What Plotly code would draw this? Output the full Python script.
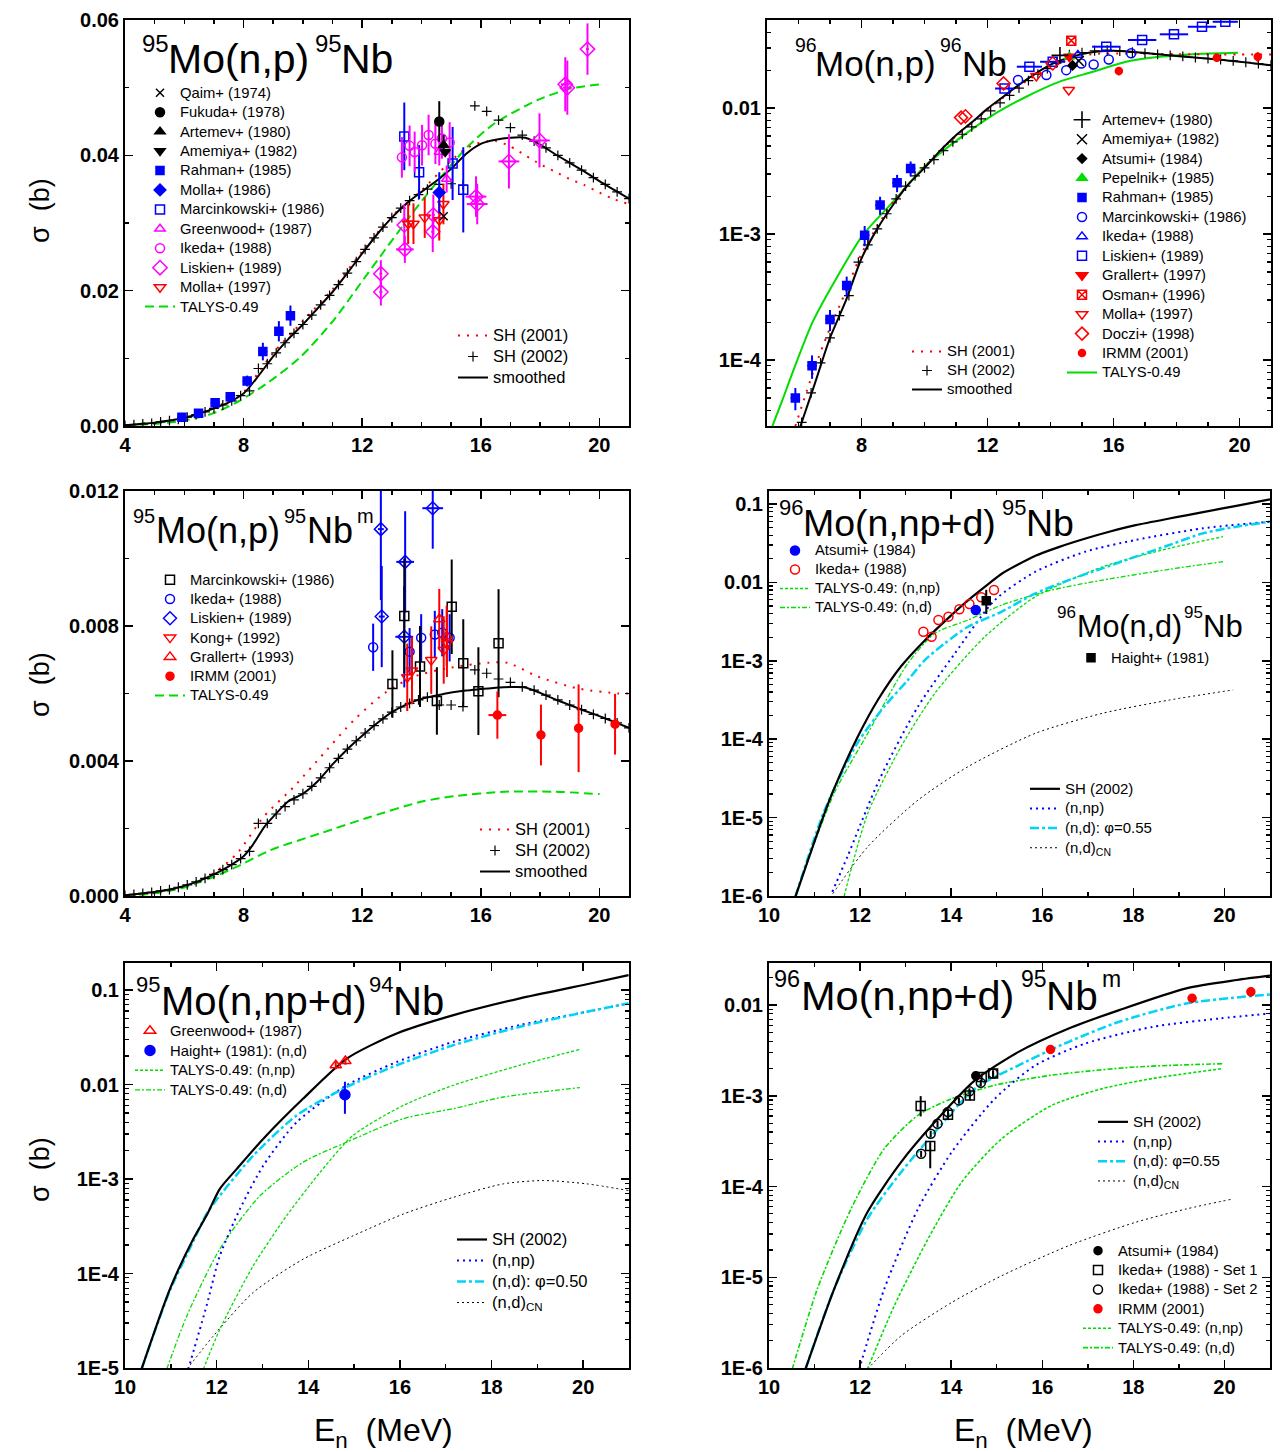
import plotly.graph_objects as go

W, H = 1280, 1452
FONT = "Liberation Sans"
BLK = "#000000"; BLUE = "#0000ff"; RED = "#ff0000"; MAG = "#ff00ff"
GRN = "#00dd00"; CYAN = "#00d4f4"

# ================= Panel 1: 95Mo(n,p)95Nb =================
p1_smooth_E = [4.0, 4.5, 5.0, 5.5, 6.0, 6.5, 7.0, 7.5, 8.0, 8.5, 9.0, 9.5, 10.0, 10.5, 11.0, 11.5, 12.0, 12.5,
               13.0, 13.5, 14.0, 14.5, 15.0, 15.5, 16.0, 16.5, 17.0, 17.5, 18.0, 18.5, 19.0, 19.5, 20.0, 20.5, 21.0]
p1_smooth = [0.0001, 0.0003, 0.0005, 0.0008, 0.0012, 0.0018, 0.0026, 0.0035, 0.0048, 0.0074, 0.0103, 0.0128,
             0.0150, 0.0174, 0.0198, 0.0226, 0.0255, 0.0283, 0.0308, 0.0329, 0.0346, 0.0362, 0.0380, 0.0402,
             0.0417, 0.0423, 0.0426, 0.0426, 0.0416, 0.0402, 0.0389, 0.0376, 0.0362, 0.0349, 0.0336]
p1_sh01_E = [4.0, 5.0, 6.0, 7.0, 8.0, 8.5, 9.0, 10.0, 11.0, 12.0, 13.0, 14.0, 15.0, 15.5, 16.0, 16.5, 17.0,
             17.5, 18.0, 18.5, 19.0, 19.5, 20.0, 20.5, 21.0]
p1_sh01 = [0.0001, 0.0005, 0.0012, 0.0027, 0.0050, 0.0079, 0.0108, 0.0155, 0.0202, 0.0258, 0.0310, 0.0348,
           0.0392, 0.0410, 0.0419, 0.0421, 0.0413, 0.0400, 0.0387, 0.0376, 0.0365, 0.0356, 0.0345, 0.0335, 0.0328]
sh02_E = [4.0, 4.3, 4.6, 4.9, 5.2, 5.5, 5.8, 6.1, 6.4, 6.7, 7.0, 7.3, 7.6, 7.9, 8.2, 8.5, 8.8, 9.1, 9.4, 9.7,
          10.0, 10.3, 10.6, 10.9, 11.2, 11.5, 11.8, 12.1, 12.4, 12.7, 13.0, 13.3, 13.6, 13.9, 14.2, 14.6, 15.0,
          15.4, 15.8, 16.2, 16.6, 17.0, 17.4, 17.8, 18.2, 18.6, 19.0, 19.4, 19.8, 20.2, 20.6, 21.0]
p1_sh02 = [0.0001, 0.0002, 0.0003, 0.0004, 0.0006, 0.0008, 0.0010, 0.0013, 0.0017, 0.0021, 0.0026, 0.0031,
           0.0037, 0.0045, 0.0052, 0.0085, 0.0092, 0.0108, 0.0123, 0.0137, 0.0150, 0.0164, 0.0179, 0.0193,
           0.0209, 0.0226, 0.0243, 0.0261, 0.0278, 0.0294, 0.0308, 0.0322, 0.0333, 0.0342, 0.0350, 0.0357,
           0.0358, 0.0356, 0.0473, 0.0465, 0.0452, 0.0441, 0.0430, 0.0421, 0.0411, 0.0400, 0.0389, 0.0378,
           0.0367, 0.0357, 0.0346, 0.0336]
p1_talys_E = [4.0, 5.0, 6.0, 7.0, 7.89, 8.79, 9.92, 11.05, 11.95, 12.85, 13.77, 14.66, 15.56, 16.46, 17.93, 19.06, 20.07]
p1_talys = [0.0001, 0.0003, 0.0008, 0.0019, 0.0038, 0.0063, 0.0102, 0.0157, 0.0211, 0.0265, 0.0319, 0.0368,
            0.0413, 0.0447, 0.0482, 0.0499, 0.0505]
p1_qaim_E = [14.75]; p1_qaim = [0.031]
p1_fukuda_E = [14.6]; p1_fukuda = [0.045]; p1_fukuda_err = [0.003]
p1_artemev_E = [14.75]; p1_artemev = [0.0415]; p1_artemev_err = [0.0015]
p1_amemiya_E = [14.8]; p1_amemiya = [0.0405]
p1_rahman_E = [5.92, 6.48, 7.04, 7.55, 8.12, 8.65, 9.19, 9.58]
p1_rahman = [0.00128, 0.00187, 0.00345, 0.00433, 0.00665, 0.0110, 0.0140, 0.0163]
p1_rahman_err = [0.0003, 0.0003, 0.0005, 0.0006, 0.0008, 0.0013, 0.0015, 0.0015]
p1_rahman_xerr = [0.15, 0.15, 0.15, 0.15, 0.15, 0.15, 0.15, 0.15]
p1_molla86_E = [14.6]; p1_molla86 = [0.0345]; p1_molla86_err = [0.003]
p1_marc_E = [13.42, 13.92, 15.05, 15.41]
p1_marc = [0.0428, 0.0375, 0.0388, 0.0349]
p1_marc_err = [0.005, 0.004, 0.0054, 0.0063]
p1_green_E = [14.6, 14.85]; p1_green = [0.0405, 0.0365]; p1_green_err = [0.002, 0.002]
p1_ikeda_E = [13.34, 13.6, 13.77, 14.02, 14.24, 14.47, 14.69, 14.95]
p1_ikeda = [0.0397, 0.0414, 0.0405, 0.0415, 0.0430, 0.0417, 0.0425, 0.0419]
p1_ikeda_err = [0.003, 0.003, 0.003, 0.003, 0.003, 0.003, 0.003, 0.003]
p1_lisk_E = [12.63, 12.63, 13.44, 13.42, 14.38, 14.4, 15.84, 15.88, 16.95, 17.98, 18.85, 18.92, 19.6]
p1_lisk = [0.0225, 0.0198, 0.0261, 0.0297, 0.0287, 0.0312, 0.0339, 0.0328, 0.0391, 0.0422, 0.0505, 0.0500, 0.0557]
p1_lisk_err = [0.002, 0.002, 0.002, 0.003, 0.003, 0.003, 0.003, 0.003, 0.004, 0.004, 0.004, 0.004, 0.0038]
p1_lisk_xerr = [0.05, 0.05, 0.3, 0.05, 0.05, 0.05, 0.35, 0.35, 0.35, 0.35, 0.15, 0.15, 0.05]
p1_molla97_E = [13.55, 13.73, 14.11, 14.6, 14.74]
p1_molla97 = [0.0299, 0.0299, 0.0308, 0.0304, 0.0328]
p1_molla97_err = [0.003, 0.003, 0.003, 0.003, 0.003]

# ================= Panel 2: 96Mo(n,p)96Nb =================
p2_smooth_E = [6.0, 6.5, 7.0, 7.5, 8.0, 8.5, 9.0, 9.5, 10.0, 10.5, 11.0, 11.5, 12.0, 12.5, 13.0, 13.5, 14.0, 14.5,
               15.0, 15.5, 16.0, 16.5, 17.0, 17.5, 18.0, 18.5, 19.0, 19.5, 20.0, 20.5, 21.0]
p2_smooth = [2.7e-5, 6.3e-5, 1.5e-4, 2.95e-4, 6.4e-4, 1.1e-3, 1.7e-3, 2.5e-3, 3.35e-3, 4.6e-3, 6.1e-3, 7.7e-3,
             9.9e-3, 0.0123, 0.0153, 0.0186, 0.0221, 0.0248, 0.0268, 0.0281, 0.0285, 0.0281, 0.0273, 0.0266,
             0.0259, 0.0253, 0.0247, 0.0241, 0.0233, 0.0226, 0.0219]
p2_sh02_E = [6.1, 6.4, 6.7, 7.0, 7.3, 7.6, 7.9, 8.2, 8.5, 8.8, 9.1, 9.4, 9.7, 10.0, 10.3, 10.6, 10.9, 11.2, 11.5,
             11.8, 12.1, 12.4, 12.7, 13.0, 13.3, 13.6, 13.9, 14.2, 14.6, 15.0, 15.4, 15.8, 16.2, 16.6, 17.0, 17.4,
             17.8, 18.2, 18.6, 19.0, 19.4, 19.8, 20.2, 20.6, 21.0]
p2_sh02 = [3.2e-5, 5.5e-5, 9.5e-5, 1.5e-4, 2.25e-4, 3.25e-4, 6.0e-4, 8.2e-4, 1.1e-3, 1.45e-3, 1.9e-3, 2.4e-3,
           2.9e-3, 3.35e-3, 3.9e-3, 4.6e-3, 5.4e-3, 6.2e-3, 7.1e-3, 8.2e-3, 9.5e-3, 0.0110, 0.0126, 0.0144,
           0.0165, 0.0186, 0.0206, 0.0228, 0.0265, 0.0275, 0.0285, 0.0288, 0.0283, 0.0278, 0.0273, 0.0267,
           0.0262, 0.0257, 0.0252, 0.0247, 0.0243, 0.0237, 0.0231, 0.0225, 0.0219]
p2_sh01_E = [5.9, 6.5, 7.0, 7.5, 8.0, 8.5, 9.0, 10.0, 11.0, 12.0, 13.0, 14.0, 14.5, 15.0, 15.5, 16.0, 17.0, 18.0,
             19.0, 20.0, 21.0]
p2_sh01 = [3.0e-5, 8.5e-5, 1.8e-4, 3.5e-4, 7.0e-4, 1.15e-3, 1.8e-3, 3.4e-3, 6.0e-3, 9.7e-3, 0.0150, 0.0212,
           0.0245, 0.0262, 0.0270, 0.0271, 0.0270, 0.0268, 0.0267, 0.0266, 0.0266]
p2_talys_E = [5.15, 5.5, 5.82, 6.45, 7.2, 8.04, 9.0, 10.05, 11.11, 12.17, 13.23, 14.29, 15.34, 16.4, 17.46, 18.52, 19.95]
p2_talys = [2.9e-5, 4.9e-5, 8.07e-5, 2.01e-4, 4.45e-4, 9.8e-4, 1.8e-3, 3.53e-3, 5.75e-3, 8.8e-3, 0.0123,
            0.0162, 0.0194, 0.0233, 0.0255, 0.0268, 0.0275]
p2_artemev_E = [14.3]; p2_artemev = [0.0262]
p2_amemiya_E = [14.9]; p2_amemiya = [0.0236]
p2_atsumi_E = [14.7]; p2_atsumi = [0.0218]
p2_pepelnik_E = [14.6]; p2_pepelnik = [0.0255]
p2_rahman_E = [5.9, 6.43, 7.0, 7.53, 8.1, 8.59, 9.13, 9.56]
p2_rahman = [5.0e-5, 9.0e-5, 2.1e-4, 3.9e-4, 9.8e-4, 1.7e-3, 2.55e-3, 3.32e-3]
p2_rahman_err = [1.0e-5, 1.9e-5, 4e-5, 7e-5, 1.8e-4, 2.8e-4, 4e-4, 4.5e-4]
p2_rahman_xerr = [0.15, 0.15, 0.15, 0.15, 0.15, 0.15, 0.15, 0.15]
p2_marc_E = [12.97, 13.87, 14.5, 14.98, 15.37, 15.85, 16.56]
p2_marc = [0.0167, 0.0183, 0.0200, 0.0226, 0.0222, 0.0243, 0.0272]
p2_ikeda_E = [14.87]; p2_ikeda = [0.0264]
p2_lisk_E = [12.54, 13.33, 14.07, 15.77, 16.91, 17.92, 18.81, 19.55]
p2_lisk = [0.0143, 0.0213, 0.0233, 0.0307, 0.0347, 0.0385, 0.0442, 0.0484]
p2_lisk_xerr = [0.3, 0.4, 0.4, 0.45, 0.45, 0.45, 0.45, 0.4]
p2_grallert_E = [14.6]; p2_grallert = [0.0255]
p2_osman_E = [14.66]; p2_osman = [0.0343]
p2_molla_E = [13.55, 14.58]; p2_molla = [0.018, 0.0139]
p2_doczi_E = [11.16, 11.3, 12.51, 14.07]; p2_doczi = [0.0084, 0.0086, 0.0157, 0.0226]
p2_irmm_E = [16.17, 19.28, 20.58]; p2_irmm = [0.0197, 0.0251, 0.0255]; p2_irmm_err = [0.0015, 0.0018, 0.0022]

# ================= Panel 3: 95Mo(n,p)95Nb^m =================
p3_smooth_E = [4.0, 4.5, 5.0, 5.5, 6.0, 6.5, 7.0, 7.5, 8.0, 8.3, 8.7, 9.0, 9.5, 10.0, 10.5, 11.0, 11.5, 12.0, 12.5,
               13.0, 13.5, 14.0, 14.5, 15.0, 15.5, 16.0, 16.5, 17.0, 17.5, 18.0, 18.5, 19.0, 19.5, 20.0, 20.5, 21.0]
p3_smooth = [0.00002, 0.00007, 0.00012, 0.00019, 0.0003, 0.00045, 0.00064, 0.00088, 0.00118, 0.0015, 0.00205,
             0.00235, 0.0028, 0.00303, 0.0034, 0.0039, 0.00435, 0.00475, 0.00512, 0.00545, 0.00568, 0.00584,
             0.00594, 0.00603, 0.00609, 0.00613, 0.00617, 0.00619, 0.00618, 0.00602, 0.00583, 0.00566, 0.00549,
             0.00533, 0.00516, 0.00498]
p3_sh02 = [0.00002, 0.00005, 0.00008, 0.00011, 0.00015, 0.00019, 0.00026, 0.00033, 0.00042, 0.00052, 0.00064,
           0.00078, 0.00093, 0.00111, 0.00132, 0.00215, 0.00215, 0.00243, 0.00265, 0.00285, 0.00303, 0.00325,
           0.0035, 0.0038, 0.00408, 0.00435, 0.0046, 0.00483, 0.00505, 0.00525, 0.00545, 0.0056, 0.00571,
           0.00581, 0.00589, 0.00566, 0.00566, 0.00561, 0.0067, 0.0066, 0.00643, 0.00633, 0.0062, 0.0061,
           0.00595, 0.00581, 0.00566, 0.00552, 0.00538, 0.00526, 0.00513, 0.00498]
p3_sh01_E = [4.0, 5.0, 6.0, 7.0, 7.78, 8.68, 9.7, 10.71, 11.72, 12.74, 13.75, 14.88, 16.24, 16.91, 17.93, 19.28, 20.63, 21.0]
p3_sh01 = [0.00002, 0.0001, 0.0003, 0.00068, 0.00126, 0.00235, 0.00324, 0.00423, 0.00521, 0.006, 0.0065,
           0.00675, 0.00691, 0.00691, 0.0065, 0.00615, 0.006, 0.006]
p3_talys_E = [4.0, 5.0, 6.0, 6.54, 7.0, 7.78, 8.91, 10.6, 12.29, 13.98, 15.11, 16.8, 18.49, 20.01]
p3_talys = [0.0, 0.00008, 0.00025, 0.00042, 0.00057, 0.00087, 0.00136, 0.00186, 0.00235, 0.00279, 0.00296,
            0.00309, 0.00309, 0.00302]
p3_marc_E = [13.02, 13.42, 13.95, 14.52, 15.02, 15.41, 15.92, 16.6]
p3_marc = [0.00628, 0.0083, 0.0068, 0.00578, 0.00857, 0.0069, 0.00607, 0.00749]
p3_marc_err = [0.001, 0.0017, 0.0012, 0.001, 0.0014, 0.0013, 0.0013, 0.0016]
p3_ikeda_E = [12.37, 13.6, 13.99, 14.45, 14.7, 14.95]
p3_ikeda = [0.00737, 0.00724, 0.00765, 0.00775, 0.0078, 0.00765]
p3_ikeda_err = [0.0007, 0.0007, 0.0007, 0.0007, 0.0007, 0.0007]
p3_lisk_E = [12.63, 12.66, 13.45, 13.42, 14.38]
p3_lisk = [0.01087, 0.00828, 0.0099, 0.00768, 0.01149]
p3_lisk_err = [0.0021, 0.0015, 0.0015, 0.0015, 0.0012]
p3_lisk_xerr = [0.1, 0.1, 0.3, 0.3, 0.35]
p3_kong_E = [13.52, 13.68, 14.33, 14.75, 14.86]
p3_kong = [0.00648, 0.00668, 0.00699, 0.00729, 0.00749]
p3_kong_err = [0.001, 0.001, 0.001, 0.001, 0.001]
p3_grallert_E = [14.6, 14.85]; p3_grallert = [0.0082, 0.0077]; p3_grallert_err = [0.0009, 0.0009]
p3_irmm_E = [16.56, 18.03, 19.3, 20.53]
p3_irmm = [0.00536, 0.00477, 0.00497, 0.00509]
p3_irmm_err = [0.0007, 0.0009, 0.0013, 0.0009]
p3_irmm_xerr = [0.3, 0.1, 0.1, 0.1]

# ================= Panel 4: 96Mo(n,np+d)95Nb =================
p4_sh_E = [10.58, 10.84, 11.21, 11.43, 11.94, 12.39, 12.9, 13.42, 14.0, 14.37, 14.82, 15.11, 15.85, 16.36, 16.95,
           17.47, 18.05, 18.79, 19.16, 19.9, 20.26, 21.0]
p4_sh = [9.8e-7, 2.69e-6, 1.1e-5, 2.34e-5, 1.05e-4, 3.16e-4, 8.51e-4, 1.82e-3, 3.8e-3, 5.89e-3, 9.55e-3, 0.0129,
         0.0219, 0.0282, 0.0363, 0.0442, 0.0537, 0.0653, 0.0716, 0.0865, 0.0948, 0.115]
p4_np_E = [11.39, 11.72, 12.42, 13.27, 14.08, 14.96, 15.85, 16.95, 18.05, 19.53, 21.0]
p4_np = [1.13e-6, 3.16e-6, 3.02e-5, 2.6e-4, 1.24e-3, 5.97e-3, 0.0137, 0.0247, 0.0348, 0.049, 0.0594]
p4_nd_E = [10.58, 11.21, 11.94, 12.53, 13.05, 13.42, 13.86, 14.37, 15.11, 15.85, 16.58, 17.32, 18.05, 18.79,
           19.53, 20.26, 21.0]
p4_nd = [9.8e-7, 1.2e-5, 8.9e-5, 2.6e-4, 5.69e-4, 1.02e-3, 1.67e-3, 2.72e-3, 4.24e-3, 7.26e-3, 0.0107, 0.0151,
         0.0213, 0.030, 0.0423, 0.0514, 0.0594]
p4_cn_E = [11.4, 12.17, 13.27, 14.37, 15.85, 17.32, 18.79, 20.19]
p4_cn = [1.07e-6, 4.26e-6, 1.67e-5, 4.47e-5, 1.19e-4, 2.14e-4, 3.16e-4, 4.25e-4]
p4_tnp_E = [11.65, 12.17, 12.9, 13.64, 14.74, 15.85, 17.32, 18.79, 19.97]
p4_tnp = [1e-6, 1.14e-5, 8.04e-5, 3.85e-4, 2.03e-3, 6.58e-3, 0.0158, 0.0272, 0.0383]
p4_tnd_E = [10.58, 11.43, 12.17, 13.05, 13.64, 14.37, 15.11, 16.21, 17.32, 18.79, 19.97]
p4_tnd = [1e-6, 2.04e-5, 1.19e-4, 9.29e-4, 2.24e-3, 3.31e-3, 5.15e-3, 8.0e-3, 0.0107, 0.0147, 0.0184]
p4_atsumi_E = [14.54]; p4_atsumi = [4.45e-3]
p4_ikeda_E = [13.39, 13.57, 13.72, 13.94, 14.18, 14.4, 14.66, 14.94]
p4_ikeda = [2.35e-3, 2.03e-3, 3.31e-3, 3.66e-3, 4.54e-3, 5.31e-3, 6.46e-3, 8.0e-3]
p4_haight_E = [14.77]; p4_haight = [5.85e-3]; p4_haight_up = [2.2e-3]; p4_haight_dn = [1.9e-3]

# ================= Panel 5: 95Mo(n,np+d)94Nb =================
p5_sh_E = [10.36, 10.98, 11.49, 11.78, 12.07, 12.44, 13.02, 13.89, 14.84, 15.93, 17.17, 18.62, 20.08, 20.99]
p5_sh = [9.7e-6, 6.84e-5, 2.32e-4, 4.1e-4, 7.87e-4, 1.28e-3, 2.67e-3, 7.1e-3, 0.0188, 0.0347, 0.0543, 0.0817,
         0.115, 0.144]
p5_np_E = [11.38, 11.78, 12.07, 12.51, 13.02, 13.75, 14.84, 15.93, 17.17, 18.62, 20.08, 20.99]
p5_np = [9.7e-6, 4.55e-5, 1.54e-4, 4.83e-4, 1.39e-3, 4.01e-3, 9.82e-3, 0.0173, 0.0283, 0.0426, 0.0589, 0.0723]
p5_nd_E = [10.36, 10.98, 11.49, 11.78, 12.07, 12.8, 13.75, 14.84, 15.93, 17.17, 18.62, 20.08, 20.99]
p5_nd = [9.7e-6, 6.6e-5, 2.19e-4, 4.27e-4, 6.68e-4, 1.77e-3, 4.72e-3, 9.42e-3, 0.016, 0.0261, 0.0408, 0.0589, 0.0723]
p5_tnp_E = [11.71, 12.07, 12.8, 13.53, 14.26, 14.98, 16.08, 17.17, 18.62, 19.93]
p5_tnp = [9.7e-6, 2.57e-5, 1.21e-4, 4.1e-4, 1.18e-3, 2.9e-3, 6.03e-3, 9.82e-3, 0.016, 0.0235]
p5_tnd_E = [10.91, 11.35, 12.07, 12.95, 13.89, 14.84, 16.08, 17.17, 18.26, 19.93]
p5_tnd = [9.7e-6, 3.56e-5, 1.82e-4, 6.68e-4, 1.51e-3, 2.46e-3, 4.36e-3, 5.56e-3, 7.38e-3, 9.27e-3]
p5_cn_E = [11.35, 11.93, 12.8, 13.89, 14.98, 16.08, 17.17, 18.26, 19.13, 20.08, 20.99]
p5_cn = [9.7e-6, 2.19e-5, 6.31e-5, 1.42e-4, 2.51e-4, 4.27e-4, 6.41e-4, 8.89e-4, 9.64e-4, 8.89e-4, 7.55e-4]
p5_green_E = [14.6, 14.81]; p5_green = [0.016, 0.0177]; p5_green_err = [0.0015, 0.0015]
p5_haight_E = [14.8]; p5_haight = [7.8e-3]; p5_haight_err = [2.9e-3]

# ================= Panel 6: 96Mo(n,np+d)95Nb^m =================
p6_sh_E = [10.8, 11.43, 12.16, 12.9, 13.64, 14.52, 15.48, 16.58, 17.69, 19.16, 20.27, 21.0]
p6_sh = [9.7e-7, 7.41e-6, 5.2e-5, 1.86e-4, 5.14e-4, 1.48e-3, 3.05e-3, 5.52e-3, 8.81e-3, 0.0153, 0.0189, 0.0211]
p6_np_E = [11.98, 12.53, 13.27, 14.01, 14.96, 15.85, 16.95, 18.42, 19.9, 21.0]
p6_np = [9.7e-7, 7.41e-6, 5.66e-5, 2.39e-4, 9.31e-4, 2.17e-3, 3.78e-3, 5.75e-3, 7.13e-3, 8.09e-3]
p6_nd_E = [10.8, 11.43, 12.16, 12.9, 13.64, 14.52, 15.48, 16.58, 17.69, 19.16, 21.0]
p6_nd = [9.7e-7, 7.41e-6, 4.4e-5, 1.44e-4, 3.98e-4, 1.2e-3, 2.17e-3, 3.94e-3, 6.55e-3, 0.0104, 0.0131]
p6_tnp_E = [12.16, 12.75, 13.49, 14.23, 15.11, 16.21, 17.32, 18.42, 19.97]
p6_tnp = [9.7e-7, 4.84e-6, 2.64e-5, 1.12e-4, 3.37e-4, 7.85e-4, 1.2e-3, 1.55e-3, 2.0e-3]
p6_tnd_E = [10.51, 11.06, 11.8, 12.53, 13.27, 14.01, 14.96, 16.21, 18.05, 19.97]
p6_tnd = [9.7e-7, 7.41e-6, 5.66e-5, 2.61e-4, 6.1e-4, 9.31e-4, 1.31e-3, 1.69e-3, 2.08e-3, 2.26e-3]
p6_cn_E = [12.16, 12.9, 14.01, 15.11, 16.58, 18.05, 19.16, 20.19]
p6_cn = [9.7e-7, 2.26e-6, 5.27e-6, 1.04e-5, 2.23e-5, 4.04e-5, 5.66e-5, 7.31e-5]
p6_atsumi_E = [14.54]; p6_atsumi = [1.66e-3]
p6_ik1_E = [13.33, 13.54, 13.93, 14.41, 14.67, 14.92]
p6_ik1 = [7.73e-4, 2.79e-4, 6.2e-4, 1.01e-3, 1.61e-3, 1.76e-3]
p6_ik1_up = [2.2e-4, 3e-5, 8e-5, 1.2e-4, 1.5e-4, 1.5e-4]
p6_ik1_dn = [1.8e-4, 1.2e-4, 8e-5, 1.2e-4, 1.5e-4, 1.5e-4]
p6_ik2_E = [13.34, 13.55, 13.7, 13.93, 14.17, 14.4, 14.65, 14.92]
p6_ik2 = [2.3e-4, 3.82e-4, 4.93e-4, 6.63e-4, 8.9e-4, 1.12e-3, 1.39e-3, 1.76e-3]
p6_ik2_err = [1.8e-5, 3e-5, 4e-5, 5e-5, 7e-5, 9e-5, 1.1e-4, 1.4e-4]
p6_irmm_E = [16.18, 19.29, 20.58]; p6_irmm = [3.24e-3, 0.0119, 0.014]; p6_irmm_err = [3e-4, 1.2e-3, 1.6e-3]

# ---------------------------------------------------------------------------
fig = go.Figure()


def N(text, px=14.8):
    return f"<span style='font-size:{px}px'>{text}</span>"


def line(ax, x, y, color, width, dash, name=None, legend="legend", rank=1000, shape="spline"):
    fig.add_trace(go.Scatter(
        x=x, y=y, mode="lines", xaxis="x" + ax, yaxis="y" + ax,
        line=dict(color=color, width=width, dash=dash, shape=shape, smoothing=0.7),
        name=name or "", showlegend=name is not None, legend=legend, legendrank=rank,
        hoverinfo="skip"))


def pts(ax, x, y, symbol, color, size, name=None, legend="legend", rank=1000,
        yerr=None, yerrm=None, xerr=None, lw=1.5, lcolor=None):
    kw = {}
    if yerr is not None:
        ey = dict(type="data", array=yerr, color=color, thickness=2, width=0, visible=True)
        if yerrm is not None:
            ey.update(symmetric=False, arrayminus=yerrm)
        kw["error_y"] = ey
    if xerr is not None:
        kw["error_x"] = dict(type="data", array=xerr, color=color, thickness=2, width=0, visible=True)
    fig.add_trace(go.Scatter(
        x=x, y=y, mode="markers", xaxis="x" + ax, yaxis="y" + ax,
        marker=dict(symbol=symbol, size=size, color=color, line=dict(color=lcolor or color, width=lw)),
        name=name or "", showlegend=name is not None, legend=legend, legendrank=rank,
        hoverinfo="skip", **kw))


DOT_RED = "2px,7px"
DASH_G = "9px,5px"
DOT_B = "2px,4px"
DASHDOT_C = "9px,3px,3px,3px"
DOT_G = "3px,2px"
DASHDOT_G = "5px,2px,2px,2px"
DOT_K = "2px,3px"

# ---- Panel 1 ----
line("", p1_talys_E, p1_talys, GRN, 2, DASH_G, N("TALYS-0.49"), "legend", 12)
line("", p1_sh01_E, p1_sh01, RED, 2, DOT_RED, N("SH (2001)", 16.5), "legend2", 1)
line("", p1_smooth_E, p1_smooth, BLK, 2, "solid", N("smoothed", 16.5), "legend2", 3)
pts("", sh02_E, p1_sh02, "cross-thin", BLK, 7, N("SH (2002)", 16.5), "legend2", 2, lw=1.2)
pts("", p1_rahman_E, p1_rahman, "square", BLUE, 8, N("Rahman+ (1985)"), "legend", 5,
    yerr=p1_rahman_err, xerr=p1_rahman_xerr)
pts("", p1_marc_E, p1_marc, "square-open", BLUE, 9, N("Marcinkowski+ (1986)"), "legend", 7, yerr=p1_marc_err)
pts("", p1_lisk_E, p1_lisk, "diamond-open", MAG, 11, N("Liskien+ (1989)"), "legend", 10,
    yerr=p1_lisk_err, xerr=p1_lisk_xerr)
pts("", p1_ikeda_E, p1_ikeda, "circle-open", MAG, 9, N("Ikeda+ (1988)"), "legend", 9, yerr=p1_ikeda_err)
pts("", p1_green_E, p1_green, "triangle-up-open", MAG, 9, N("Greenwood+ (1987)"), "legend", 8, yerr=p1_green_err)
pts("", p1_molla97_E, p1_molla97, "triangle-down-open", RED, 10, N("Molla+ (1997)"), "legend", 11,
    yerr=p1_molla97_err)
pts("", p1_molla86_E, p1_molla86, "diamond", BLUE, 9, N("Molla+ (1986)"), "legend", 6, yerr=p1_molla86_err)
pts("", p1_qaim_E, p1_qaim, "x-thin", BLK, 8, N("Qaim+ (1974)"), "legend", 1, lw=1.5)
pts("", p1_fukuda_E, p1_fukuda, "circle", BLK, 9, N("Fukuda+ (1978)"), "legend", 2, yerr=p1_fukuda_err)
pts("", p1_artemev_E, p1_artemev, "triangle-up", BLK, 9, N("Artemev+ (1980)"), "legend", 3, yerr=p1_artemev_err)
pts("", p1_amemiya_E, p1_amemiya, "triangle-down", BLK, 9, N("Amemiya+ (1982)"), "legend", 4)

# ---- Panel 2 ----
line("2", p2_talys_E, p2_talys, GRN, 2, "solid", N("TALYS-0.49"), "legend3", 15)
line("2", p2_sh01_E, p2_sh01, RED, 2, DOT_RED, N("SH (2001)", 14.9), "legend4", 1)
line("2", p2_smooth_E, p2_smooth, BLK, 2, "solid", N("smoothed", 14.9), "legend4", 3)
pts("2", p2_sh02_E, p2_sh02, "cross-thin", BLK, 7, N("SH (2002)", 14.9), "legend4", 2, lw=1.2)
pts("2", p2_rahman_E, p2_rahman, "square", BLUE, 8, N("Rahman+ (1985)"), "legend3", 5,
    yerr=p2_rahman_err, xerr=p2_rahman_xerr)
pts("2", p2_marc_E, p2_marc, "circle-open", BLUE, 9, N("Marcinkowski+ (1986)"), "legend3", 6)
pts("2", p2_lisk_E, p2_lisk, "square-open", BLUE, 9, N("Liskien+ (1989)"), "legend3", 8, xerr=p2_lisk_xerr)
pts("2", p2_doczi_E, p2_doczi, "diamond-open", RED, 10, N("Doczi+ (1998)"), "legend3", 12)
pts("2", p2_molla_E, p2_molla, "triangle-down-open", RED, 10, N("Molla+ (1997)"), "legend3", 11)
pts("2", p2_pepelnik_E, p2_pepelnik, "triangle-up", GRN, 9, N("Pepelnik+ (1985)"), "legend3", 4)
pts("2", p2_grallert_E, p2_grallert, "triangle-down", RED, 10, N("Grallert+ (1997)"), "legend3", 9)
pts("2", p2_osman_E, p2_osman, "square-x-open", RED, 9, N("Osman+ (1996)"), "legend3", 10)
pts("2", p2_ikeda_E, p2_ikeda, "triangle-up-open", BLUE, 9, N("Ikeda+ (1988)"), "legend3", 7)
pts("2", p2_artemev_E, p2_artemev, "cross-thin", BLK, 12, N("Artemev+ (1980)"), "legend3", 1, lw=1.6)
pts("2", p2_amemiya_E, p2_amemiya, "x-thin", BLK, 10, N("Amemiya+ (1982)"), "legend3", 2, lw=1.5)
pts("2", p2_atsumi_E, p2_atsumi, "diamond", BLK, 7, N("Atsumi+ (1984)"), "legend3", 3)
pts("2", p2_irmm_E, p2_irmm, "circle", RED, 7, N("IRMM (2001)"), "legend3", 13, yerr=p2_irmm_err)

# ---- Panel 3 ----
line("3", p3_talys_E, p3_talys, GRN, 2, DASH_G, N("TALYS-0.49"), "legend5", 7)
line("3", p3_sh01_E, p3_sh01, RED, 2, DOT_RED, N("SH (2001)", 16.5), "legend6", 1)
line("3", p3_smooth_E, p3_smooth, BLK, 2, "solid", N("smoothed", 16.5), "legend6", 3)
pts("3", sh02_E, p3_sh02, "cross-thin", BLK, 7, N("SH (2002)", 16.5), "legend6", 2, lw=1.2)
pts("3", p3_lisk_E, p3_lisk, "diamond-open", BLUE, 10, N("Liskien+ (1989)"), "legend5", 3,
    yerr=p3_lisk_err, xerr=p3_lisk_xerr)
pts("3", p3_ikeda_E, p3_ikeda, "circle-open", BLUE, 9, N("Ikeda+ (1988)"), "legend5", 2, yerr=p3_ikeda_err)
pts("3", p3_marc_E, p3_marc, "square-open", BLK, 9, N("Marcinkowski+ (1986)"), "legend5", 1, yerr=p3_marc_err)
pts("3", p3_kong_E, p3_kong, "triangle-down-open", RED, 10, N("Kong+ (1992)"), "legend5", 4, yerr=p3_kong_err)
pts("3", p3_grallert_E, p3_grallert, "triangle-up-open", RED, 10, N("Grallert+ (1993)"), "legend5", 5,
    yerr=p3_grallert_err)
pts("3", p3_irmm_E, p3_irmm, "circle", RED, 8, N("IRMM (2001)"), "legend5", 6, yerr=p3_irmm_err, xerr=p3_irmm_xerr)

# ---- Panel 4 ----
line("4", p4_cn_E, p4_cn, BLK, 1, DOT_K, N("(n,d)<sub>CN</sub>", 15), "legend9", 4)
line("4", p4_tnp_E, p4_tnp, GRN, 1.3, DOT_G, N("TALYS-0.49: (n,np)"), "legend7", 3)
line("4", p4_tnd_E, p4_tnd, GRN, 1.3, DASHDOT_G, N("TALYS-0.49: (n,d)"), "legend7", 4)
line("4", p4_np_E, p4_np, BLUE, 2, DOT_B, N("(n,np)", 15), "legend9", 2)
line("4", p4_nd_E, p4_nd, CYAN, 2.5, DASHDOT_C, N("(n,d): φ=0.55", 15), "legend9", 3)
line("4", p4_sh_E, p4_sh, BLK, 2.2, "solid", N("SH (2002)", 15), "legend9", 1)
pts("4", p4_ikeda_E, p4_ikeda, "circle-open", RED, 9, N("Ikeda+ (1988)"), "legend7", 2)
pts("4", p4_atsumi_E, p4_atsumi, "circle", BLUE, 9, N("Atsumi+ (1984)"), "legend7", 1)
pts("4", p4_haight_E, p4_haight, "square", BLK, 8, N("Haight+ (1981)"), "legend8", 1,
    yerr=p4_haight_up, yerrm=p4_haight_dn)

# ---- Panel 5 ----
line("5", p5_cn_E, p5_cn, BLK, 1, DOT_K, N("(n,d)<sub>CN</sub>", 16.5), "legend11", 4)
line("5", p5_tnp_E, p5_tnp, GRN, 1.3, DOT_G, N("TALYS-0.49: (n,np)"), "legend10", 3)
line("5", p5_tnd_E, p5_tnd, GRN, 1.3, DASHDOT_G, N("TALYS-0.49: (n,d)"), "legend10", 4)
line("5", p5_np_E, p5_np, BLUE, 2, DOT_B, N("(n,np)", 16.5), "legend11", 2)
line("5", p5_nd_E, p5_nd, CYAN, 2.5, DASHDOT_C, N("(n,d): φ=0.50", 16.5), "legend11", 3)
line("5", p5_sh_E, p5_sh, BLK, 2.2, "solid", N("SH (2002)", 16.5), "legend11", 1)
pts("5", p5_green_E, p5_green, "triangle-up-open", RED, 10, N("Greenwood+ (1987)"), "legend10", 1,
    yerr=p5_green_err)
pts("5", p5_haight_E, p5_haight, "circle", BLUE, 10, N("Haight+ (1981): (n,d)"), "legend10", 2,
    yerr=p5_haight_err)

# ---- Panel 6 ----
line("6", p6_cn_E, p6_cn, BLK, 1, DOT_K, N("(n,d)<sub>CN</sub>", 15), "legend12", 4)
line("6", p6_tnp_E, p6_tnp, GRN, 1.6, DOT_G, N("TALYS-0.49: (n,np)"), "legend13", 5)
line("6", p6_tnd_E, p6_tnd, GRN, 1.6, DASHDOT_G, N("TALYS-0.49: (n,d)"), "legend13", 6)
line("6", p6_np_E, p6_np, BLUE, 2, DOT_B, N("(n,np)", 15), "legend12", 2)
line("6", p6_nd_E, p6_nd, CYAN, 2.5, DASHDOT_C, N("(n,d): φ=0.55", 15), "legend12", 3)
line("6", p6_sh_E, p6_sh, BLK, 2.2, "solid", N("SH (2002)", 15), "legend12", 1)
pts("6", p6_ik1_E, p6_ik1, "square-open", BLK, 9, N("Ikeda+ (1988) - Set 1"), "legend13", 2,
    yerr=p6_ik1_up, yerrm=p6_ik1_dn)
pts("6", p6_ik2_E, p6_ik2, "circle-open", BLK, 9, N("Ikeda+ (1988) - Set 2"), "legend13", 3, yerr=p6_ik2_err)
pts("6", p6_atsumi_E, p6_atsumi, "circle", BLK, 8, N("Atsumi+ (1984)"), "legend13", 1)
pts("6", p6_irmm_E, p6_irmm, "circle", RED, 8, N("IRMM (2001)"), "legend13", 4, yerr=p6_irmm_err)

# ---------------------------------------------------------------------------
def dx(a, b):
    return [a / W, b / W]


def dy(top, bot):
    return [1 - bot / H, 1 - top / H]


common = dict(showline=True, linewidth=2, linecolor=BLK, mirror="ticks", ticks="inside", ticklen=8,
              tickwidth=1.5, tickcolor=BLK, showgrid=False, zeroline=False, automargin=False,
              tickfont=dict(family=FONT, size=20, color=BLK, weight="bold"))
minor_lin = lambda d: dict(dtick=d, ticks="inside", ticklen=4, tickwidth=1.5, tickcolor=BLK)
log_minor = [m * 10.0 ** e for e in range(-7, 0) for m in range(2, 10)]
minor_log = dict(tickmode="array", tickvals=log_minor, ticks="inside", ticklen=4, tickwidth=1.2, tickcolor=BLK)

log_vals = [1e-6, 1e-5, 1e-4, 1e-3, 1e-2, 1e-1]
log_text = ["<b>1E-6</b>", "<b>1E-5</b>", "<b>1E-4</b>", "<b>1E-3</b>", "<b>0.01</b>", "<b>0.1</b>"]

X1, X2 = dx(125, 629), dx(767, 1271)
XR = dx(769, 1270)
Y1, Y2, Y3 = dy(20, 426), dy(491, 896), dy(963, 1368)

layout = dict(
    width=W, height=H, margin=dict(l=0, r=0, t=0, b=0, autoexpand=False),
    paper_bgcolor="white", plot_bgcolor="white", font=dict(family=FONT, color=BLK),
    xaxis=dict(domain=X1, range=[4, 21], anchor="y", dtick=4, tick0=0, minor=minor_lin(1), **common),
    yaxis=dict(domain=Y1, range=[0, 0.06], anchor="x", dtick=0.02, tickformat=".2f", minor=minor_lin(0.01), **common),
    xaxis2=dict(domain=X2, range=[5, 21], anchor="y2", dtick=4, tick0=0, minor=minor_lin(1), **common),
    yaxis2=dict(domain=Y1, type="log", range=[-4.523, -1.301], anchor="x2", tickmode="array",
                tickvals=log_vals[2:5], ticktext=log_text[2:5], minor=minor_log, **common),
    xaxis3=dict(domain=X1, range=[4, 21], anchor="y3", dtick=4, tick0=0, minor=minor_lin(1), **common),
    yaxis3=dict(domain=Y2, range=[0, 0.012], anchor="x3", dtick=0.004, tickformat=".3f",
                minor=minor_lin(0.002), **common),
    xaxis4=dict(domain=XR, range=[10, 21], anchor="y4", dtick=2, tick0=0, minor=minor_lin(1), **common),
    yaxis4=dict(domain=Y2, type="log", range=[-6, -0.834], anchor="x4", tickmode="array",
                tickvals=log_vals, ticktext=log_text, minor=minor_log, **common),
    xaxis5=dict(domain=X1, range=[10, 21], anchor="y5", dtick=2, tick0=0, minor=minor_lin(1), **common),
    yaxis5=dict(domain=Y3, type="log", range=[-5, -0.714], anchor="x5", tickmode="array",
                tickvals=log_vals[1:], ticktext=log_text[1:], minor=minor_log, **common),
    xaxis6=dict(domain=XR, range=[10, 21], anchor="y6", dtick=2, tick0=0, minor=minor_lin(1), **common),
    yaxis6=dict(domain=Y3, type="log", range=[-6, -1.536], anchor="x6", tickmode="array",
                tickvals=log_vals[:5], ticktext=log_text[:5], minor=minor_log, **common),
)


def leg(left, top, base):
    return dict(x=left / W, y=1 - top / H, xanchor="left", yanchor="top", bgcolor="rgba(0,0,0,0)",
                borderwidth=0, font=dict(family=FONT, size=base, color=BLK), itemwidth=30,
                tracegroupgap=0, traceorder="normal")


layout.update(
    legend=leg(140, 78, 12.65),
    legend2=leg(453, 320, 13.85),
    legend3=leg(1062, 105, 12.65),
    legend4=leg(907, 337, 12.3),
    legend5=leg(150, 565, 12.55),
    legend6=leg(475, 814, 13.85),
    legend7=leg(775, 536, 12.3),
    legend8=leg(1071, 643, 12.65),
    legend9=leg(1025, 774, 12.8),
    legend10=leg(130, 1016, 12.85),
    legend11=leg(452, 1224, 13.85),
    legend12=leg(1093, 1107, 12.85),
    legend13=leg(1078, 1236, 12.6),
)


def txt(x, y, s, size, xanchor="left", angle=0):
    return dict(x=x / W, y=1 - y / H, xref="paper", yref="paper", text=s, showarrow=False,
                xanchor=xanchor, yanchor="middle", textangle=angle,
                font=dict(family=FONT, size=size, color=BLK))


ann = [
    # Panel 1 title
    txt(139.7, 43.4, "95", 24), txt(166, 59.1, "Mo(n,p)", 41), txt(313, 43.4, "95", 24), txt(339, 59.1, "Nb", 41),
    # Panel 2 title
    txt(793, 44.9, "96", 19.5), txt(813, 63, "Mo(n,p)", 35), txt(938, 44.9, "96", 19.5), txt(960, 63, "Nb", 35),
    # Panel 3 title
    txt(131, 516.4, "95", 20), txt(153.5, 530.8, "Mo(n,p)", 36), txt(281.5, 516.4, "95", 20),
    txt(305, 530.8, "Nb", 36), txt(355, 516.4, "m", 20),
    # Panel 4 titles
    txt(776.5, 507.4, "96", 22), txt(800.5, 523, "Mo(n,np+d)", 37.5), txt(1000, 507.4, "95", 22),
    txt(1024, 523, "Nb", 37.5),
    txt(1055, 612.4, "96", 17), txt(1074.5, 626, "Mo(n,d)", 30.5), txt(1182, 612.4, "95", 17),
    txt(1201, 626, "Nb", 31),
    # Panel 5 title
    txt(133.5, 984.1, "95", 22), txt(159, 1001.1, "Mo(n,np+d)", 40), txt(366.5, 984.1, "94", 22),
    txt(390.5, 1001.1, "Nb", 40),
    # Panel 6 title
    txt(771.5, 978.7, "96", 23.5), txt(799, 995.8, "Mo(n,np+d)", 41.5), txt(1018.5, 978.7, "95", 23),
    txt(1044, 995.8, "Nb", 40.5), txt(1100, 978.7, "m", 23),
    # axis titles
    txt(40, 211, "σ&nbsp;&nbsp;(b)", 27, "center", -90),
    txt(40, 685, "σ&nbsp;&nbsp;(b)", 27, "center", -90),
    txt(40, 1170, "σ&nbsp;&nbsp;(b)", 27, "center", -90),
    txt(383.5, 1432, "E<sub>n</sub>&nbsp;&nbsp;(MeV)", 32, "center"),
    txt(1023.5, 1432, "E<sub>n</sub>&nbsp;&nbsp;(MeV)", 32, "center"),
]
layout["annotations"] = ann

fig.update_layout(**layout)
fig.write_html("out.html",
               config={"displayModeBar": False, "staticPlot": True},
               post_script="document.body.style.margin='0px';document.body.style.padding='0px';"
                           "document.documentElement.style.overflow='hidden';")
